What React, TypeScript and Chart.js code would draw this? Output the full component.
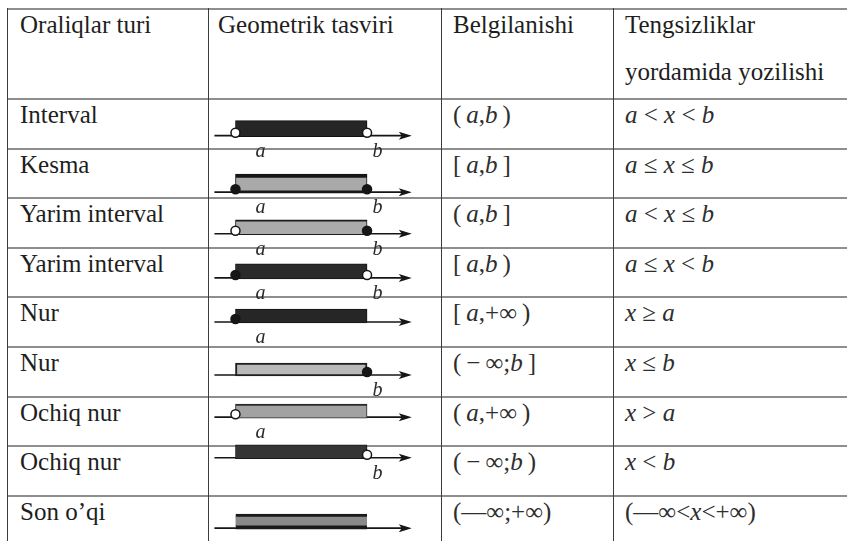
import React, { useEffect, useRef } from 'react';
import { Chart, registerables } from 'chart.js';

Chart.register(...registerables);

// ---- table content ----
const headerCol1 = 'Oraliqlar turi';
const headerCol2 = 'Geometrik tasviri';
const headerCol3 = 'Belgilanishi';
const headerCol4 = ['Tengsizliklar', 'yordamida yozilishi'];

const rowNames = ['Interval', 'Kesma', 'Yarim interval', 'Yarim interval', 'Nur', 'Nur', 'Ochiq nur', 'Ochiq nur', "Son o\u2019qi"];
const notations = [
  '(\u2009a,b\u2009)',
  '[\u2009a,b\u2009]',
  '(\u2009a,b\u2009]',
  '[\u2009a,b\u2009)',
  '[\u2009a,+\u221e\u2009)',
  '(\u2009\u2212\u2009\u221e;b\u2009]',
  '(\u2009a,+\u221e\u2009)',
  '(\u2009\u2212\u2009\u221e;b\u2009)',
  '(\u2014\u221e;+\u221e)',
];
const inequalities = [
  'a < x < b',
  'a \u2264 x \u2264 b',
  'a < x \u2264 b',
  'a \u2264 x < b',
  'x \u2265 a',
  'x \u2264 b',
  'x > a',
  'x < b',
  '(\u2014\u221e<x<+\u221e)',
];

// ---- number-line figures (values in number-line units / row units) ----
const barStart = [1, 1, 1, 1, 1, 1, 1, 1, 1];
const barEnd = [6, 6, 6, 6, 6, 6, 6, 6, 6];
const leftEnd = ['open', 'closed', 'open', 'closed', 'closed', 'none', 'open', 'none', 'none'];
const rightEnd = ['open', 'closed', 'closed', 'open', 'none', 'closed', 'none', 'open', 'none'];
const showA = [true, true, true, true, true, false, true, false, false];
const showB = [true, true, true, true, false, true, false, true, false];
const lineLevel = [0.76, 1.9, 2.74, 3.63, 4.52, 5.59, 6.44, 7.26, 8.68];

// ---- layout ----
const colX = [7, 208, 441, 613];
const rowY = [8, 98, 148, 197, 247, 296, 346, 396, 445, 495, 544];
const CANVAS_LEFT = 196;
const CANVAS_TOP = 98;
const CANVAS_W = 250;
const CANVAS_H = 446;
const ROW_PX = CANVAS_H / 9;

const ink = '#161616';
const barStyles = [
  { fill: '#262626', edge: '#111111', border: 1, thick: 16 },
  { fill: '#a9a9a9', edge: '#161616', border: { top: 4, bottom: 3, left: 1, right: 1 }, thick: 19 },
  { fill: '#ababab', edge: '#1c1c1c', border: { top: 2, bottom: 1, left: 1, right: 1 }, thick: 15 },
  { fill: '#2a2a2a', edge: '#151515', border: 1, thick: 15 },
  { fill: '#262626', edge: '#151515', border: 1, thick: 14 },
  { fill: '#b8b8b8', edge: '#1f1f1f', border: 2, thick: 13 },
  { fill: '#a2a2a2', edge: '#2a2a2a', border: { top: 2, bottom: 1, left: 1, right: 1 }, thick: 14 },
  { fill: '#353535', edge: '#1a1a1a', border: 1, thick: 14 },
  { fill: '#8a8a8a', edge: '#1a1a1a', border: { top: 3, bottom: 4, left: 0, right: 0 }, thick: 15 },
];

const renderMath = (s: string) =>
  s.split('').map((ch, k) =>
    /[abx]/.test(ch) ? <i key={k}>{ch}</i> : <React.Fragment key={k}>{ch}</React.Fragment>
  );

export default function App() {
  const ref = useRef<HTMLCanvasElement>(null);

  useEffect(() => {
    document.body.style.margin = '0';
    const canvas = ref.current;
    if (!canvas) return;

    const barDatasets = rowNames.map((_, i) => ({
      type: 'bar' as const,
      indexAxis: 'y' as const,
      data: [{ x: [barStart[i], barEnd[i]], y: lineLevel[i] - (barStyles[i].thick / 2 - 1) / ROW_PX }],
      backgroundColor: barStyles[i].fill,
      borderColor: barStyles[i].edge,
      borderWidth: barStyles[i].border,
      borderSkipped: false,
      barThickness: barStyles[i].thick,
      grouped: false,
      order: 2,
    }));

    const dots: { x: number; y: number; kind: string }[] = [];
    rowNames.forEach((_, i) => {
      if (leftEnd[i] !== 'none') dots.push({ x: barStart[i], y: lineLevel[i] - 0.06, kind: leftEnd[i] });
      if (rightEnd[i] !== 'none') dots.push({ x: barEnd[i], y: lineLevel[i] - 0.06, kind: rightEnd[i] });
    });

    const axisFrom = 0.2;
    const axisTo = 7.7;

    const numberLines = {
      id: 'numberLines',
      beforeDatasetsDraw(chart: any) {
        const { ctx, scales } = chart;
        const xs = scales.x;
        const ys = scales.y;
        ctx.save();
        ctx.strokeStyle = ink;
        ctx.fillStyle = ink;
        ctx.lineWidth = 1.6;
        lineLevel.forEach((lv) => {
          const py = ys.getPixelForValue(lv);
          const x0 = xs.getPixelForValue(axisFrom);
          const x1 = xs.getPixelForValue(axisTo);
          ctx.beginPath();
          ctx.moveTo(x0, py);
          ctx.lineTo(x1 - 6, py);
          ctx.stroke();
          ctx.beginPath();
          ctx.moveTo(x1, py);
          ctx.lineTo(x1 - 13, py - 4);
          ctx.lineTo(x1 - 10, py);
          ctx.lineTo(x1 - 13, py + 4);
          ctx.closePath();
          ctx.fill();
        });
        ctx.restore();
      },
      afterDatasetsDraw(chart: any) {
        const { ctx, scales } = chart;
        const xs = scales.x;
        const ys = scales.y;
        ctx.save();
        ctx.fillStyle = '#2a2a2a';
        ctx.font = 'italic 20px "Liberation Serif", "Times New Roman", serif';
        ctx.textAlign = 'center';
        ctx.textBaseline = 'middle';
        lineLevel.forEach((lv, i) => {
          const py = ys.getPixelForValue(lv) + 16;
          if (showA[i]) ctx.fillText('a', xs.getPixelForValue(barStart[i] + 0.95), py);
          if (showB[i]) ctx.fillText('b', xs.getPixelForValue(barEnd[i] + 0.4), py);
        });
        ctx.restore();
      },
    };

    const chart = new Chart(canvas, {
      type: 'bar',
      data: {
        datasets: [
          ...barDatasets,
          {
            type: 'scatter' as const,
            data: dots.map((d) => ({ x: d.x, y: d.y })),
            pointRadius: 4.5,
            pointHoverRadius: 4.5,
            pointBackgroundColor: dots.map((d) => (d.kind === 'open' ? '#ffffff' : ink)),
            pointBorderColor: ink,
            pointBorderWidth: 1.5,
            order: 0,
          } as any,
        ],
      },
      options: {
        animation: false,
        responsive: false,
        events: [],
        layout: { padding: 0, autoPadding: false },
        plugins: { legend: { display: false }, tooltip: { enabled: false } },
        scales: {
          x: { type: 'linear', min: -0.5, max: 9, display: false, offset: false, grace: 0, grid: { offset: false } },
          y: { type: 'linear', min: 0, max: 9, reverse: true, display: false, offset: false, grace: 0, grid: { offset: false } },
        },
      },
      plugins: [numberLines],
    } as any);

    return () => chart.destroy();
  }, []);

  const textTop = (baseline: number) => baseline - 21;

  return (
    <div
      style={{
        position: 'fixed',
        left: 0,
        top: 0,
        width: 847,
        height: 541,
        overflow: 'hidden',
        background: '#ffffff',
        fontFamily: '"Liberation Serif", "Times New Roman", serif',
        fontSize: 25,
        lineHeight: '25px',
        color: '#1e1e1e',
      }}
    >
      {rowY.map((y, i) => (
        <div key={'h' + i} style={{ position: 'absolute', left: colX[0], top: y, width: 847 - colX[0], height: 2, background: '#8e8e8e' }} />
      ))}
      {colX.map((x, i) => (
        <div key={'v' + i} style={{ position: 'absolute', left: x, top: rowY[0], width: 1, height: 541 - rowY[0], background: '#3c3c3c' }} />
      ))}

      <div style={{ position: 'absolute', left: colX[0] + 13, top: textTop(33), whiteSpace: 'nowrap' }}>{headerCol1}</div>
      <div style={{ position: 'absolute', left: colX[1] + 10, top: textTop(33), whiteSpace: 'nowrap' }}>{headerCol2}</div>
      <div style={{ position: 'absolute', left: colX[2] + 12, top: textTop(33), whiteSpace: 'nowrap' }}>{headerCol3}</div>
      <div style={{ position: 'absolute', left: colX[3] + 12, top: textTop(33), whiteSpace: 'nowrap' }}>{headerCol4[0]}</div>
      <div style={{ position: 'absolute', left: colX[3] + 12, top: textTop(80), whiteSpace: 'nowrap' }}>{headerCol4[1]}</div>

      {rowNames.map((name, i) => (
        <React.Fragment key={'r' + i}>
          <div style={{ position: 'absolute', left: colX[0] + 13, top: textTop(rowY[i + 1] + 25), whiteSpace: 'nowrap' }}>{name}</div>
          <div style={{ position: 'absolute', left: colX[2] + 12, top: textTop(rowY[i + 1] + 25), whiteSpace: 'nowrap', color: '#2e2e2e' }}>
            {renderMath(notations[i])}
          </div>
          <div style={{ position: 'absolute', left: colX[3] + 12, top: textTop(rowY[i + 1] + 25), whiteSpace: 'nowrap', color: '#2e2e2e' }}>
            {renderMath(inequalities[i])}
          </div>
        </React.Fragment>
      ))}

      <canvas
        ref={ref}
        width={CANVAS_W}
        height={CANVAS_H}
        style={{ position: 'absolute', left: CANVAS_LEFT, top: CANVAS_TOP, width: CANVAS_W, height: CANVAS_H, display: 'block' }}
      />
    </div>
  );
}
